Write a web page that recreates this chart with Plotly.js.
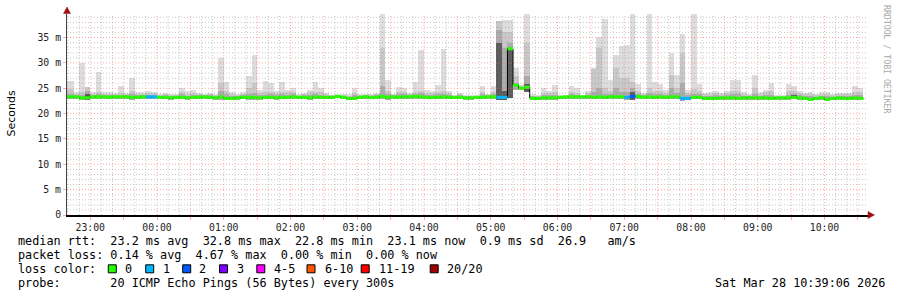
<!DOCTYPE html>
<html><head><meta charset="utf-8">
<script src="https://cdn.plot.ly/plotly-3.0.1.min.js"></script>
<style>html,body{margin:0;padding:0;background:#fff;}#chart{width:897px;height:297px;}</style>
</head><body><div id="chart"></div>
<script>
// ---- data (5-minute bins, first bin starts 22:35) ----
const binStart = '2026-03-27T22:35:00';
const stepSeconds = 300;
const xRange = ['2026-03-27 22:39:06', '2026-03-28 10:39:06'];

const medianRtt = [
 23.3,23.3,23.3,23.1,23.1,23.3,23.3,23.3,23.2,23.3,23.3,23.3,
 23.2,23.2,23.3,23.3,23.3,23.2,23.2,23.1,23.2,23.2,23.1,23.2,
 23.2,23.3,23.2,23.1,23.3,23.0,23.0,23.1,23.2,23.2,23.2,23.1,
 23.2,23.2,23.1,23.2,23.2,23.3,23.2,23.2,23.1,23.3,23.2,23.2,
 23.2,23.4,23.2,23.0,23.0,23.2,23.3,23.2,23.2,23.4,23.2,23.3,
 23.2,23.3,23.3,23.4,23.3,23.2,23.2,23.2,23.3,23.2,23.2,23.2,
 23.1,23.1,23.2,23.2,23.3,23.3,23.2,23.2,32.8,25.6,25.0,25.2,
 23.0,23.0,23.1,23.1,23.1,23.2,23.3,23.3,23.3,23.3,23.3,23.2,
 23.3,23.2,23.3,23.3,23.3,23.2,23.4,23.4,23.2,23.3,23.2,23.3,
 23.2,23.3,23.3,23.0,23.0,23.2,23.2,23.0,23.0,23.0,23.1,23.1,
 23.1,23.0,23.1,23.1,23.1,23.1,23.1,23.0,23.1,23.1,23.1,23.2,
 23.1,23.0,22.8,23.0,23.1,22.8,23.0,23.1,23.0,23.0,23.1,23.0
];
const lossCount = [
 0,0,0,0,0,0,0,0,0,0,0,0,
 0,0,0,1,1,0,0,0,0,0,0,0,
 0,0,0,0,0,0,0,0,0,0,0,0,
 0,0,0,0,0,0,0,0,0,0,0,0,
 0,0,0,0,0,0,0,0,0,0,0,0,
 0,0,0,0,0,0,0,0,0,0,0,0,
 0,0,0,0,0,0,1,1,0,0,0,0,
 0,0,0,0,0,0,0,0,0,0,0,0,
 0,0,0,0,0,1,2,0,0,0,0,0,
 0,0,0,1,1,0,0,0,0,0,0,0,
 0,0,0,0,0,0,0,0,0,0,0,0,
 0,0,0,0,0,0,0,0,0,0,0,0
];
const rttMin = [
 22.8,22.8,22.9,22.6,22.7,22.9,22.8,22.9,22.8,22.9,22.8,22.9,
 22.7,22.8,22.9,22.9,22.9,22.8,22.8,22.7,22.8,22.8,22.7,22.8,
 22.8,22.9,22.8,22.7,22.7,22.6,22.6,22.7,22.8,22.7,22.7,22.7,
 22.8,22.8,22.7,22.8,22.8,22.9,22.8,22.8,22.7,22.9,22.8,22.8,
 22.8,23.0,22.8,22.6,22.6,22.8,22.9,22.8,22.8,22.8,22.7,22.9,
 22.8,22.9,22.9,22.9,22.8,22.8,22.8,22.8,22.8,22.8,22.8,22.8,
 22.7,22.7,22.8,22.8,22.9,22.8,22.7,22.7,23.0,24.7,24.6,24.3,
 22.6,22.6,22.7,22.7,22.7,22.8,22.9,22.9,22.9,22.9,22.9,22.8,
 22.8,22.8,22.9,22.8,22.8,22.6,22.7,22.9,22.8,22.8,22.8,22.9,
 22.8,22.8,22.9,22.5,22.6,22.8,22.8,22.6,22.6,22.6,22.7,22.7,
 22.7,22.6,22.7,22.7,22.7,22.7,22.7,22.6,22.7,22.7,22.7,22.8,
 22.7,22.6,22.4,22.6,22.7,22.4,22.6,22.7,22.6,22.6,22.7,22.6
];
const rttMax = [
 26.5,26.5,24.3,30.0,25.3,24.2,28.3,24.2,24.3,24.0,25.5,24.0,
 27.0,24.2,24.2,24.4,24.3,23.9,24.0,23.9,23.9,25.0,24.5,24.7,
 24.0,23.9,24.0,23.8,31.0,26.2,24.2,23.8,24.2,27.4,31.6,24.6,
 26.5,26.0,24.5,26.3,24.7,25.0,23.8,24.0,24.7,26.2,25.0,24.0,
 23.7,23.7,23.8,23.8,25.0,23.8,23.9,23.8,24.0,39.6,26.7,23.8,
 25.3,25.0,24.0,26.3,32.6,24.6,24.4,25.7,32.8,24.4,23.7,24.0,
 23.7,23.7,23.7,25.4,23.8,25.5,38.3,38.5,38.5,29.0,25.7,39.6,
 23.8,23.6,25.0,24.5,25.6,23.7,23.7,25.5,25.0,23.7,24.5,29.0,
 35.2,38.7,26.7,31.6,33.4,33.6,39.6,25.9,24.0,39.6,26.3,25.9,
 24.7,32.0,27.7,35.7,24.7,39.6,25.9,24.0,24.2,24.5,24.0,24.5,
 26.6,26.7,24.3,23.9,27.7,24.2,24.7,26.0,23.7,23.7,25.9,25.4,
 24.5,24.0,24.3,23.8,24.2,24.2,23.8,24.0,24.0,24.0,25.5,25.0
];
const rttHigh = [
 24.9,24.9,23.9,24.2,25.2,23.9,24.2,23.9,23.9,23.8,24.0,23.8,
 24.4,23.9,23.9,24.0,24.0,23.7,23.8,23.6,23.7,24.2,23.9,24.0,
 23.8,23.7,23.8,23.6,26.0,24.5,23.8,23.6,23.9,25.0,26.0,24.0,
 24.2,24.2,24.0,24.3,24.2,24.2,23.6,23.8,24.2,24.3,24.2,23.8,
 23.6,23.6,23.6,23.5,24.0,23.6,23.7,23.6,23.8,32.9,24.5,23.6,
 24.2,24.2,23.8,24.3,24.5,24.0,24.0,24.3,24.5,24.0,23.5,23.8,
 23.5,23.5,23.5,24.2,23.6,24.3,38.3,36.1,36.1,27.4,25.4,33.9,
 23.5,23.4,24.0,24.0,24.2,23.5,23.5,24.2,24.0,23.5,24.0,28.8,
 32.9,25.0,24.5,29.0,27.0,27.0,26.2,24.5,23.8,25.0,24.5,24.5,
 24.0,27.7,25.0,31.9,24.0,24.8,24.5,23.8,23.8,24.0,23.8,24.0,
 24.5,24.5,23.9,23.7,25.0,23.9,24.2,24.5,23.5,23.5,24.5,24.5,
 24.0,23.8,23.9,23.6,23.9,23.9,23.6,23.8,23.8,23.8,24.3,24.2
];
const rttMid = [
 23.9,23.9,23.7,23.6,24.5,23.7,23.8,23.7,23.6,23.6,23.7,23.6,
 23.8,23.6,23.7,23.7,23.7,23.5,23.6,23.4,23.5,23.8,23.5,23.7,
 23.6,23.6,23.6,23.4,24.5,23.8,23.4,23.4,23.6,23.9,24.1,23.6,
 23.7,23.8,23.6,23.8,23.7,23.8,23.5,23.6,23.6,23.8,23.7,23.5,
 23.5,23.6,23.5,23.3,23.6,23.5,23.6,23.5,23.6,25.5,23.9,23.6,
 23.8,23.8,23.6,23.9,24.0,23.7,23.7,23.8,23.9,23.7,23.4,23.6,
 23.4,23.4,23.5,23.8,23.6,23.9,36.5,33.0,34.0,26.0,25.3,27.4,
 23.4,23.3,23.6,23.6,23.7,23.4,23.5,23.8,23.7,23.5,23.7,24.2,
 25.0,23.9,23.8,25.0,24.3,24.3,25.0,23.9,23.6,24.0,23.8,23.8,
 23.6,25.0,24.0,26.0,23.6,23.8,23.8,23.4,23.5,23.6,23.5,23.6,
 23.8,23.8,23.5,23.4,23.9,23.5,23.6,23.7,23.3,23.3,23.7,23.8,
 23.6,23.5,23.4,23.3,23.5,23.4,23.3,23.5,23.4,23.4,23.6,23.6
];
const rttDark = [
 null,null,null,null,23.9,null,null,null,null,null,null,null,
 null,null,null,null,null,null,null,null,null,null,null,null,
 null,null,null,null,null,null,null,null,null,null,null,null,
 null,null,null,null,null,null,null,null,null,null,null,null,
 null,null,null,null,null,null,null,null,null,null,null,null,
 null,null,null,null,null,null,null,null,null,null,null,null,
 null,null,null,null,null,null,33.9,24.5,33.0,null,null,25.8,
 null,null,null,null,null,null,null,null,null,null,null,null,
 null,null,null,null,null,null,24.2,null,null,null,null,null,
 null,null,null,null,null,null,null,null,null,null,null,null,
 null,null,null,null,null,null,null,null,null,null,null,23.6,
 null,null,null,null,null,null,null,null,null,null,null,null
];

const xTickVals = ['2026-03-27 23:00','2026-03-27 23:30','2026-03-28 00:00','2026-03-28 00:30',
 '2026-03-28 01:00','2026-03-28 01:30','2026-03-28 02:00','2026-03-28 02:30','2026-03-28 03:00',
 '2026-03-28 03:30','2026-03-28 04:00','2026-03-28 04:30','2026-03-28 05:00','2026-03-28 05:30',
 '2026-03-28 06:00','2026-03-28 06:30','2026-03-28 07:00','2026-03-28 07:30','2026-03-28 08:00',
 '2026-03-28 08:30','2026-03-28 09:00','2026-03-28 09:30','2026-03-28 10:00','2026-03-28 10:30'];
const xTickText = ['23:00','','00:00','','01:00','','02:00','','03:00','','04:00','','05:00','',
 '06:00','','07:00','','08:00','','09:00','','10:00',''];
const yTickVals = [0,5,10,15,20,25,30,35];
const yTickText = ['0','5 m','10 m','15 m','20 m','25 m','30 m','35 m'];

const lossLabels = ['0','1','2','3','4-5','6-10','11-19','20/20'];
const lossColors = ['#26ff00','#00b8ff','#0059ff','#7e00ff','#ff00ff','#ff5500','#ff0000','#a10000'];
const statsLines = [
 'median rtt:  23.2 ms avg  32.8 ms max  22.8 ms min  23.1 ms now  0.9 ms sd  26.9   am/s',
 'packet loss: 0.14 % avg  4.67 % max  0.00 % min  0.00 % now',
 'loss color:',
 'probe:       20 ICMP Echo Pings (56 Bytes) every 300s'
];
const dateStamp = 'Sat Mar 28 10:39:06 2026';
const watermark = 'RRDTOOL / TOBI OETIKER';

// ---- build ----
const W = stepSeconds * 1000;
const t0 = Date.parse(binStart + 'Z');
const xStart = medianRtt.map((_, i) => t0 + i * W);
const xCenter = xStart.map(v => v + W / 2);

function lossIndex(c) {
  if (c <= 3) return c;
  if (c <= 5) return 4;
  if (c <= 10) return 5;
  if (c <= 19) return 6;
  return 7;
}
function smoke(top, color) {
  return {type: 'bar', x: xCenter, base: rttMin,
    y: top.map((v, i) => v == null ? null : v - rttMin[i]),
    width: W, marker: {color: color, line: {width: 0}}, hoverinfo: 'skip', showlegend: false};
}
const traces = [
  smoke(rttMax, '#dddddd'),
  smoke(rttHigh, '#c8c8c8'),
  smoke(rttMid, '#acacac'),
  smoke(rttDark, '#5c5c5c'),
  {type: 'scatter', mode: 'lines', x: xStart.concat([xStart[xStart.length - 1] + W]),
   y: medianRtt.concat([medianRtt[medianRtt.length - 1]]), line: {shape: 'hv', color: '#000', width: 1},
   hoverinfo: 'skip', showlegend: false}
];
// coloured median segments, one trace per loss colour
lossColors.forEach((col, k) => {
  const xs = [], ys = [];
  medianRtt.forEach((m, i) => {
    if (lossIndex(lossCount[i]) === k) { xs.push(xStart[i], xStart[i] + W, null); ys.push(m, m, null); }
  });
  if (xs.length) traces.push({type: 'scatter', mode: 'lines', x: xs, y: ys, connectgaps: false,
    line: {color: col, width: 3.2}, hoverinfo: 'skip', showlegend: false});
});

const L = 67, R = 868, T = 14, B = 215;
const px = x => (x - L) / (R - L);
const py = y => (B - y) / (B - T);
const pre = s => s.replace(/ /g, '\u00a0');
const mono = 'DejaVu Sans Mono, monospace';

const majorGrid = 'rgba(255,110,110,0.6)';
const minorGrid = 'rgba(130,130,130,0.45)';
const shapes = [];
// grid drawn above the smoke, as rrdtool does
const tLast = Date.parse(xRange[1].replace(' ', 'T') + 'Z');
const majorX = xTickVals.map(s => Date.parse(s.replace(' ', 'T') + 'Z'));
for (let t = Date.parse('2026-03-27T22:40:00Z'); t <= tLast; t += 600000) {
  const isMajor = majorX.includes(t);
  shapes.push({type: 'line', xref: 'x', yref: 'paper', x0: t, x1: t, y0: 0, y1: 1, layer: 'above',
    line: {color: isMajor ? majorGrid : minorGrid, width: 1, dash: '1px,2px'}});
}
for (let v = 1; v <= 39; v++) {
  const isMajor = yTickVals.includes(v);
  shapes.push({type: 'line', xref: 'paper', yref: 'y', x0: 0, x1: 1, y0: v, y1: v, layer: 'above',
    line: {color: isMajor ? majorGrid : minorGrid, width: 1, dash: '1px,2px'}});
}

const annotations = [];
const rowY = [241, 255, 269, 283];
statsLines.forEach((s, i) => annotations.push({xref: 'paper', yref: 'paper', x: px(16), y: py(rowY[i]),
  xanchor: 'left', yanchor: 'middle', showarrow: false, text: pre(s), font: {family: mono, size: 11.8, color: '#000'}}));
const labelX = [123.3, 160.7, 197.3, 235, 272.3, 322.7, 376.7, 445];
const boxX = [108.3, 145.7, 182.7, 219.5, 256.8, 307, 361.2, 430.2];
lossLabels.forEach((lab, i) => {
  annotations.push({xref: 'paper', yref: 'paper', x: px(labelX[i]), y: py(rowY[2]), xanchor: 'left', yanchor: 'middle',
    showarrow: false, text: lab, font: {family: mono, size: 11.8, color: '#000'}});
  shapes.push({type: 'rect', xref: 'paper', yref: 'paper', x0: px(boxX[i]), x1: px(boxX[i] + 8),
    y0: py(264.8), y1: py(272.8), fillcolor: lossColors[i], line: {color: '#000', width: 1}, layer: 'above'});
});
annotations.push({xref: 'paper', yref: 'paper', x: px(713), y: py(rowY[3]), xanchor: 'left', yanchor: 'middle',
  showarrow: false, text: pre(dateStamp), font: {family: mono, size: 11.8, color: '#000'}});
annotations.push({xref: 'paper', yref: 'paper', x: px(887), y: py(59), xanchor: 'center', yanchor: 'middle',
  showarrow: false, textangle: 90, text: pre(watermark), font: {family: mono, size: 8.2, color: '#a8a8a8'}});
annotations.push({xref: 'paper', yref: 'paper', x: px(10.5), y: py(113), xanchor: 'center', yanchor: 'middle',
  showarrow: false, textangle: -90, text: 'Seconds', font: {family: 'DejaVu Sans, sans-serif', size: 11, color: '#000'}});

// axis arrows
shapes.push({type: 'path', xref: 'paper', yref: 'paper',
  path: `M ${px(868)} ${py(211.5)} L ${px(874.5)} ${py(215)} L ${px(868)} ${py(218.5)} Z`,
  fillcolor: '#a01010', line: {color: '#a01010', width: 0.5}, layer: 'above'});
shapes.push({type: 'path', xref: 'paper', yref: 'paper',
  path: `M ${px(63.5)} ${py(13.5)} L ${px(67)} ${py(7)} L ${px(70.5)} ${py(13.5)} Z`,
  fillcolor: '#a01010', line: {color: '#a01010', width: 0.5}, layer: 'above'});

const layout = {
  width: 897, height: 297,
  margin: {l: L, r: 897 - R, t: T, b: 297 - B, pad: 0},
  paper_bgcolor: '#ffffff', plot_bgcolor: '#ffffff',
  barmode: 'overlay', bargap: 0, showlegend: false, hovermode: false,
  font: {family: mono, size: 10, color: '#000'},
  xaxis: {type: 'date', range: xRange, tickmode: 'array', tickvals: xTickVals, ticktext: xTickText,
    showgrid: false, showline: true, linecolor: '#000', linewidth: 1.5, ticks: 'outside', ticklen: 3, tickcolor: majorGrid,
    tickfont: {family: mono, size: 9.8, color: '#222'}, zeroline: false, fixedrange: true, layer: 'above traces'},
  yaxis: {range: [0, 39.65], tickmode: 'array', tickvals: yTickVals, ticktext: yTickText,
    showgrid: false, showline: true, linecolor: '#444', linewidth: 1, ticks: 'outside', ticklen: 3, tickcolor: majorGrid,
    tickfont: {family: mono, size: 9.8, color: '#222'}, zeroline: false, fixedrange: true, layer: 'above traces'},
  annotations: annotations, shapes: shapes
};
Plotly.newPlot('chart', traces, layout, {staticPlot: true, displayModeBar: false});
</script></body></html>
